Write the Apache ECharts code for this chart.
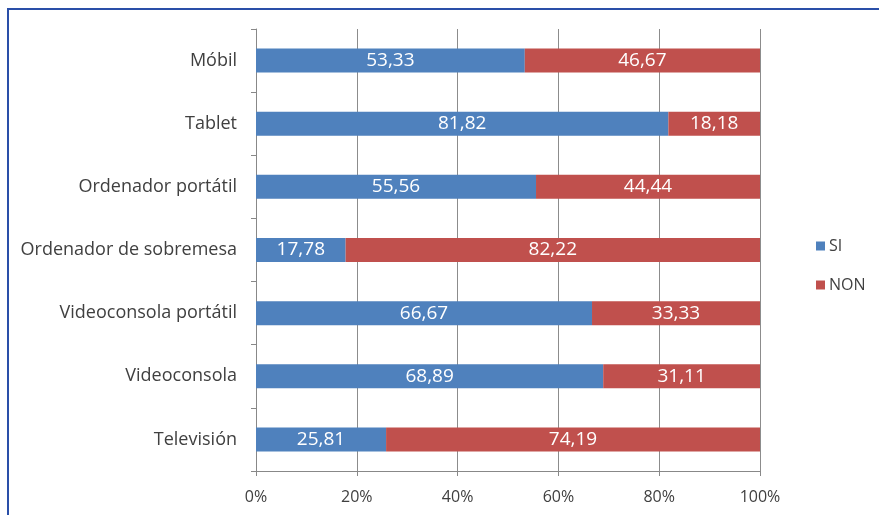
<!DOCTYPE html>
<html><head><meta charset="utf-8">
<script src="https://cdn.jsdelivr.net/npm/echarts@6/dist/echarts.min.js"></script>
<style>html,body{margin:0;padding:0;background:#fff}#c{width:879px;height:515px}</style>
</head><body><div id="c"></div>
<script>
const categories = ['Móbil','Tablet','Ordenador portátil','Ordenador de sobremesa','Videoconsola portátil','Videoconsola','Televisión'];
const siValues = [53.33, 81.82, 55.56, 17.78, 66.67, 68.89, 25.81];
const nonValues = [46.67, 18.18, 44.44, 82.22, 33.33, 31.11, 74.19];
const xTicks = [0, 20, 40, 60, 80, 100];
const seriesNames = ['SI', 'NON'];

const font = '"Open Sans", sans-serif';
const chart = echarts.init(document.getElementById('c'), null, {renderer:'canvas'});
const fmt = p => p.value.toFixed(2).replace('.', ',');
chart.setOption({
  animation:false,
  textStyle:{fontFamily:font},
  graphic:[{type:'rect', shape:{x:8, y:9, width:900, height:600}, style:{fill:'none', stroke:'#2a4fa8', lineWidth:2}, silent:true}],
  grid:{left:256, right:119, top:29, bottom:44},
  legend:{
    orient:'vertical', left:811, top:233, itemGap:23, itemWidth:9, itemHeight:9, icon:'rect',
    textStyle:{fontFamily:font, fontSize:16, color:'#404040', padding:[0,0,0,-1]},
    data:seriesNames
  },
  xAxis:{
    type:'value', min:xTicks[0], max:xTicks[xTicks.length-1], interval:20,
    axisLine:{show:true, lineStyle:{color:'#888'}},
    axisTick:{show:true, length:5, lineStyle:{color:'#888'}},
    splitLine:{show:true, lineStyle:{color:'#8c8c8c', width:1}},
    axisLabel:{formatter:'{value}%', color:'#404040', fontSize:16, fontFamily:font, margin:18}
  },
  yAxis:{
    type:'category', data:categories, inverse:true,
    axisLine:{show:true, lineStyle:{color:'#888'}},
    axisTick:{show:true, length:5, lineStyle:{color:'#888'}},
    axisLabel:{color:'#404040', fontSize:18, fontFamily:font, margin:19}
  },
  series:[
    {name:seriesNames[0], type:'bar', stack:'t', data:siValues, barWidth:'38%',
     itemStyle:{color:'#4f81bd'},
     label:{show:true, position:'inside', color:'#fff', fontSize:19, fontFamily:font, formatter:fmt}},
    {name:seriesNames[1], type:'bar', stack:'t', data:nonValues, barWidth:'38%',
     itemStyle:{color:'#c0504d'},
     label:{show:true, position:'inside', color:'#fff', fontSize:19, fontFamily:font, formatter:fmt}}
  ]
});
</script></body></html>
